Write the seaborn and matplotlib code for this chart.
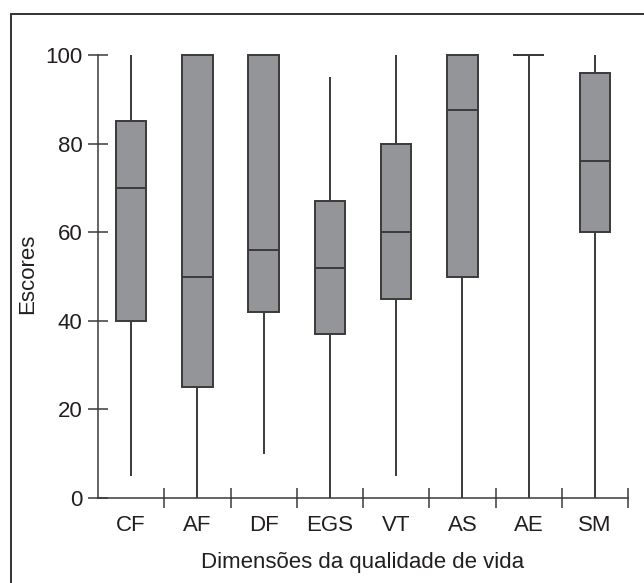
import numpy as np
import pandas as pd
import matplotlib
import matplotlib.pyplot as plt
import seaborn as sns
from matplotlib.lines import Line2D

matplotlib.use('Agg')

# five-number summaries: min, Q1, median, Q3, max
dimensions = ["CF", "AF", "DF", "EGS", "VT", "AS", "AE", "SM"]
cf = [5, 40, 70, 85, 100]
af = [0, 25, 50, 100, 100]
df_ = [10, 42, 56, 100, 100]
egs = [0, 37, 52, 67, 95]
vt = [5, 45, 60, 80, 100]
as_ = [0, 50, 87.5, 100, 100]
ae = [0, 100, 100, 100, 100]
sm = [0, 60, 76, 96, 100]
yticks = [0, 20, 40, 60, 80, 100]

series = [cf, af, df_, egs, vt, as_, ae, sm]
data = pd.DataFrame({
    "dim": np.repeat(dimensions, 5),
    "score": np.concatenate(series),
})

sns.set_style("ticks")
plt.rcParams['font.family'] = ['Liberation Sans', 'DejaVu Sans']
plt.rcParams['text.color'] = '#231f20'
plt.rcParams['axes.labelcolor'] = '#231f20'
plt.rcParams['xtick.color'] = '#3a3a3a'
plt.rcParams['ytick.color'] = '#3a3a3a'
plt.rcParams['xtick.labelcolor'] = '#231f20'
plt.rcParams['ytick.labelcolor'] = '#231f20'

edge = '#3a3a3a'
fs = 16
fig = plt.figure(figsize=(6.44, 5.83), dpi=100)
ax = fig.add_axes([98 / 644, 85 / 583, 530 / 644, (443 * 1.01) / 583])

sns.boxplot(data=data, x="dim", y="score", order=dimensions, whis=(0, 100),
            width=0.46, color="#939598", saturation=1, linecolor=edge,
            linewidth=1.4, showcaps=False, ax=ax)

ax.set_xlim(-0.5, 7.5)
ax.set_ylim(0, 101)
ax.set_yticks(yticks)
ax.set_xticks(range(len(dimensions)))
ax.set_xticklabels(dimensions)
ax.set_xticks(np.arange(0.5, 8, 1), minor=True)

ax.tick_params(axis='x', which='major', length=0, pad=12, labelsize=fs)
ax.tick_params(axis='x', which='minor', direction='inout', length=14, width=1.1)
ax.tick_params(axis='y', direction='inout', length=14.4, width=1.1, pad=4, labelsize=fs)

for side in ['top', 'right']:
    ax.spines[side].set_visible(False)
for side in ['left', 'bottom']:
    ax.spines[side].set_linewidth(1.1)
    ax.spines[side].set_color(edge)
ax.spines['left'].set_bounds(0, 100)

ax.set_xlabel("Dimensões da qualidade de vida", fontsize=fs, labelpad=12)
ax.set_ylabel("Escores", fontsize=fs, labelpad=5)

# outer frame (left and top edges visible)
top = 1 - 14 / 583
left = 11 / 644
fig.add_artist(Line2D([left, left], [top, 0], transform=fig.transFigure, color='#333333', lw=1.4))
fig.add_artist(Line2D([left, 1], [top, top], transform=fig.transFigure, color='#333333', lw=1.4))

plt.savefig("out.png", dpi=100, facecolor='white')
